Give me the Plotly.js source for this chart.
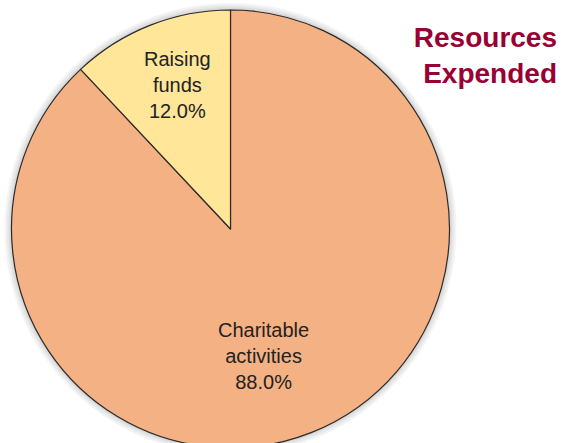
<!DOCTYPE html>
<html>
<head>
<meta charset="utf-8">
<script src="https://cdn.plot.ly/plotly-3.0.1.min.js"></script>
<style>
html,body{margin:0;padding:0;overflow:hidden;background:#fff;}
#chart{width:565px;height:460px;}
</style>
</head>
<body>
<div id="chart"></div>
<script>
// Data
var labels = ["Charitable activities", "Raising funds"];
var values = [88.0, 12.0];
var colors = ["#F4B183", "#FFE699"];
var titleText = "Resources<br>Expended";

// Layout constants (pixels)
var W = 565, H = 460;
var cx = 230.5, cy = 229, R = 219;
var labelCenters = [[263, 356], [177, 85]];

var shapes = [];
[7, 5, 3, 1.5].forEach(function (k) {
  shapes.push({
    type: "circle", xref: "paper", yref: "paper", layer: "below",
    x0: (cx - R - k) / W, x1: (cx + R + k) / W,
    y0: (H - (cy + R + k)) / H, y1: (H - (cy - R - k)) / H,
    fillcolor: "rgba(0,0,0,0.045)", line: {width: 0}
  });
});

var total = values.reduce(function (a, b) { return a + b; }, 0);
var annotations = labels.map(function (l, i) {
  return {
    xref: "paper", yref: "paper",
    x: labelCenters[i][0] / W, y: 1 - labelCenters[i][1] / H,
    xanchor: "center", yanchor: "middle",
    text: l.replace(" ", "<br>") + "<br>" + (values[i] / total * 100).toFixed(1) + "%",
    showarrow: false, align: "center",
    font: {family: "Liberation Sans, Arial, sans-serif", size: 20, color: "#222"}
  };
});

var trace = {
  type: "pie",
  labels: labels,
  values: values,
  textinfo: "none",
  marker: {colors: colors, line: {color: "#2b2b2b", width: 1.2}},
  sort: false,
  direction: "clockwise",
  rotation: 0,
  hoverinfo: "none",
  showlegend: false,
  domain: {x: [(cx - R) / W, (cx + R) / W], y: [(H - (cy + R)) / H, (H - (cy - R)) / H]}
};

var layout = {
  width: W, height: H,
  margin: {l: 0, r: 0, t: 0, b: 0},
  paper_bgcolor: "#ffffff",
  showlegend: false,
  shapes: shapes,
  annotations: annotations,
  title: {
    text: titleText,
    font: {family: "Liberation Sans, Arial, sans-serif", size: 28, color: "#990033", weight: "bold"},
    xref: "container", yref: "container",
    x: 557 / W, xanchor: "right",
    y: 1 - 47 / H, yanchor: "top"
  }
};

Plotly.newPlot("chart", [trace], layout, {displayModeBar: false, staticPlot: true});
</script>
</body>
</html>
